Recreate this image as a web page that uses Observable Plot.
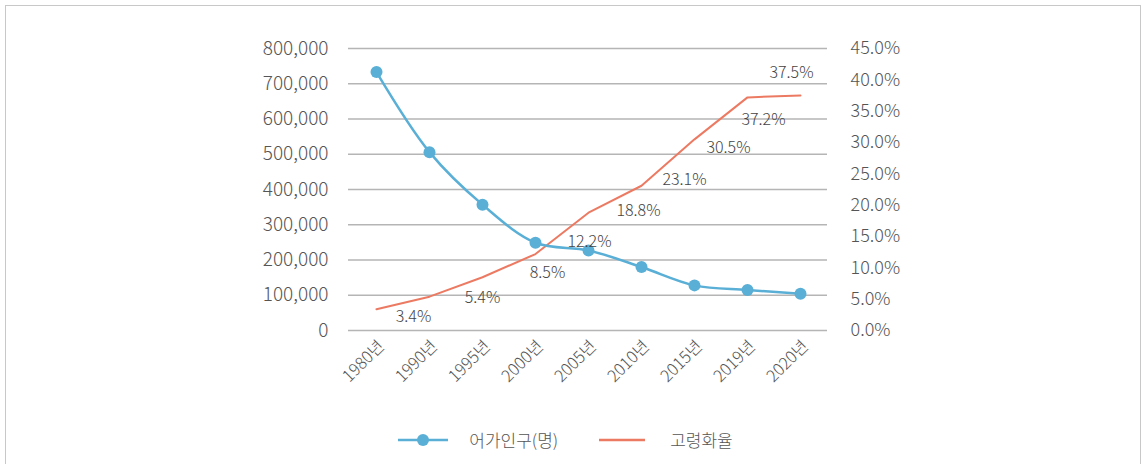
<!DOCTYPE html>
<html><head><meta charset="utf-8">
<script src="https://cdn.jsdelivr.net/npm/d3@7"></script>
<script src="https://cdn.jsdelivr.net/npm/@observablehq/plot@0.6"></script>
<style>
body{margin:0;background:#fff;font-family:"Noto Sans CJK KR","Noto Sans",sans-serif;}
#frame{position:absolute;left:5px;top:5px;width:1134px;height:470px;border:1px solid #c8c8c8;}
#wrap{position:relative;width:1145px;height:464px;overflow:hidden;}
#legend{position:absolute;top:427px;left:0;width:1145px;display:flex;justify-content:center;font-size:17px;color:#555;font-weight:300;}
.item{display:flex;align-items:center;}
</style></head>
<body><div id="wrap"><div id="frame"></div><div id="chart"></div>
<div id="legend">
<div class="item" style="margin-left:-15px"><svg width="52" height="20"><line x1="1" y1="10" x2="51" y2="10" stroke="#5aafd6" stroke-width="2.5"/><circle cx="26" cy="10" r="6" fill="#5aafd6"/></svg><span style="margin-left:20px">어가인구(명)</span></div>
<div class="item" style="margin-left:40px"><svg width="48" height="20"><line x1="1" y1="10" x2="47" y2="10" stroke="#ec7a62" stroke-width="2.5"/></svg><span style="margin-left:24px">고령화율</span></div>
</div></div>
<script>
const years = ["1980년","1990년","1995년","2000년","2005년","2010년","2015년","2019년","2020년"];
const population = [733000, 506000, 357000, 249000, 227000, 180000, 128000, 115000, 104000];
const agingRate = [3.4, 5.4, 8.5, 12.2, 18.8, 23.1, 30.5, 37.2, 37.5];
const leftTicks = [0,100000,200000,300000,400000,500000,600000,700000,800000];
const rightTicks = [0,5,10,15,20,25,30,35,40,45];

const YMAX = 800000, RMAX = 45;
const toY = r => r * YMAX / RMAX;
const popData = years.map((y,i)=>({year:y, v:population[i]}));
const rateData = years.map((y,i)=>({year:y, r:agingRate[i], v:toY(agingRate[i])}));
// label placement offsets (styling), one per rate label
const labelOffsets = [[37,8],[53,1],[65,-4],[54,-12],[50,-2],[43,-6],[34,9],[16,22],[-9,-23]];

const chart = Plot.plot({
  width: 1145, height: 400,
  marginLeft: 348, marginRight: 318, marginTop: 48, marginBottom: 70,
  style: {fontFamily: '"Noto Sans CJK KR","Noto Sans",sans-serif', color: "#555", background: "transparent", fontWeight: 300},
  x: {type: "point", domain: years, padding: 0.5},
  y: {domain: [0, YMAX]},
  marks: [
    Plot.gridY(leftTicks, {stroke: "#b5b5b5", strokeOpacity: 1, strokeWidth: 1.5}),
    Plot.axisY(leftTicks, {anchor: "left", tickSize: 0, tickPadding: 20, fontSize: 19, tickFormat: d => d3.format(",")(d), label: null}),
    Plot.axisY(rightTicks.map(toY), {anchor: "right", tickSize: 0, tickPadding: 23, fontSize: 18, textAnchor: "start", tickFormat: d => (d*RMAX/YMAX).toFixed(1)+"%", label: null}),
    Plot.axisX({tickSize: 0, tickPadding: 13, tickRotate: -45, fontSize: 16.5, label: null, dx: 5}),
    Plot.line(rateData, {x: "year", y: "v", stroke: "#ec7a62", strokeWidth: 2}),
    Plot.line(popData, {x: "year", y: "v", stroke: "#5aafd6", strokeWidth: 2.5, curve: "catmull-rom"}),
    Plot.dot(popData, {x: "year", y: "v", r: 6, fill: "#5aafd6"}),
    ...rateData.map((d, i) => Plot.text([d], {x: "year", y: "v", text: d => d.r.toFixed(1)+"%", dx: labelOffsets[i][0], dy: labelOffsets[i][1], fontSize: 16, fill: "#444"}))
  ]
});
document.getElementById("chart").append(chart);
</script></body></html>
